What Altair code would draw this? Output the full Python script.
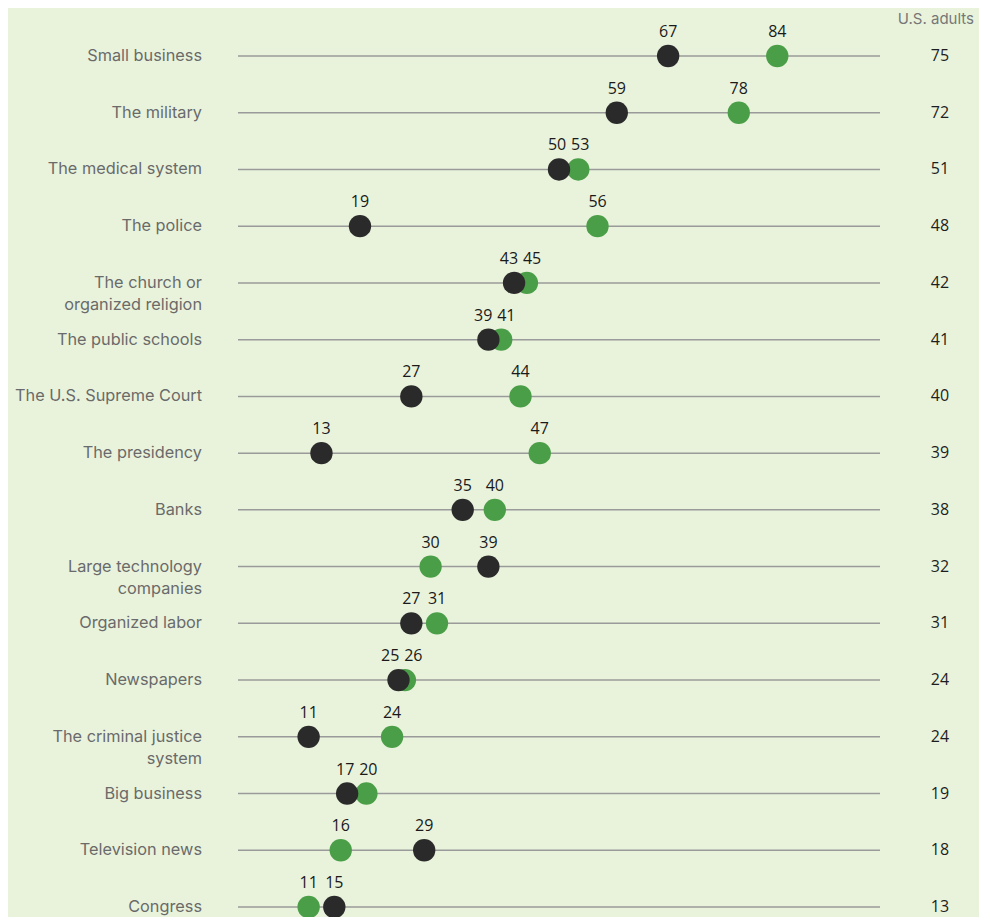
import altair as alt
import pandas as pd

categories = [
    "Small business", "The military", "The medical system", "The police",
    "The church or organized religion", "The public schools", "The U.S. Supreme Court",
    "The presidency", "Banks", "Large technology companies", "Organized labor",
    "Newspapers", "The criminal justice system", "Big business", "Television news", "Congress",
]
display_labels = [
    "Small business", "The military", "The medical system", "The police",
    "The church or\norganized religion", "The public schools", "The U.S. Supreme Court",
    "The presidency", "Banks", "Large technology\ncompanies", "Organized labor",
    "Newspapers", "The criminal justice\nsystem", "Big business", "Television news", "Congress",
]
dark_values = [67, 59, 50, 19, 43, 39, 27, 13, 35, 39, 27, 25, 11, 17, 29, 15]
green_values = [84, 78, 53, 56, 45, 41, 44, 47, 40, 30, 31, 26, 24, 20, 16, 11]
adult_values = [75, 72, 51, 48, 42, 41, 40, 39, 38, 32, 31, 24, 24, 19, 18, 13]

BG = "#e9f3dc"
GREEN = "#4a9e47"
DARK = "#2a2a2a"
MIN_LABEL_GAP = 3.6  # in data units: nudge value labels of near-coincident dots apart

rows = pd.DataFrame({"cat": categories, "label": display_labels, "adults": adult_values})


def label_positions(own, other):
    out = []
    for a, b in zip(own, other):
        if abs(a - b) < MIN_LABEL_GAP:
            mid = (a + b) / 2
            out.append(mid + (MIN_LABEL_GAP / 2 if a > b else -MIN_LABEL_GAP / 2))
        else:
            out.append(a)
    return out


dots = pd.concat([
    pd.DataFrame({"cat": categories, "value": green_values, "series": "green",
                  "labelpos": label_positions(green_values, dark_values)}),
    pd.DataFrame({"cat": categories, "value": dark_values, "series": "dark",
                  "labelpos": label_positions(dark_values, green_values)}),
])

W = 642
H = 871
yscale = alt.Scale(type="point", padding=0.176)
y = alt.Y("cat:N", sort=categories, scale=yscale, axis=None)
xscale = alt.Scale(domain=[0, 100], nice=False, zero=False)

base_rows = alt.Chart(rows)

rules = base_rows.mark_rule(color="#9a9a9a", strokeWidth=1.5).encode(
    y=y, x=alt.value(0), x2=alt.value(W)
)

left_labels = base_rows.mark_text(
    align="right", baseline="middle", lineBreak="\n", lineHeight=22,
    font="Inter", fontSize=16.3, color="#6a6a6a"
).encode(y=y, x=alt.value(-36), text="label:N")

right_vals = base_rows.mark_text(
    align="center", baseline="middle", font="Open Sans", fontSize=16, color="#1e1e1e"
).encode(y=y, x=alt.value(702), text="adults:Q")

header = alt.Chart(pd.DataFrame({"t": ["U.S. adults"]})).mark_text(
    align="right", baseline="middle", font="Inter", fontSize=15, color="#777777"
).encode(x=alt.value(736), y=alt.value(-27), text="t:N")

green_dots = alt.Chart(dots[dots.series == "green"]).mark_circle(
    size=500, opacity=1, color=GREEN
).encode(x=alt.X("value:Q", scale=xscale, axis=None), y=y)

dark_dots = alt.Chart(dots[dots.series == "dark"]).mark_circle(
    size=500, opacity=1, color=DARK
).encode(x=alt.X("value:Q", scale=xscale, axis=None), y=y)

dot_labels = alt.Chart(dots).mark_text(
    align="center", baseline="middle", dy=-24, font="Open Sans", fontSize=16, color="#1a1a1a"
).encode(x=alt.X("labelpos:Q", scale=xscale, axis=None), y=y, text="value:Q")

chart = alt.layer(
    rules, left_labels, right_vals, header, green_dots, dark_dots, dot_labels
).properties(
    width=W, height=H,
    autosize=alt.AutoSizeParams(type="none"),
    padding={"left": 230, "top": 38, "right": 99, "bottom": 0},
    background=BG,
).configure_view(stroke=None)

chart.save("out.html", embed_options={"renderer": "svg", "actions": False})
